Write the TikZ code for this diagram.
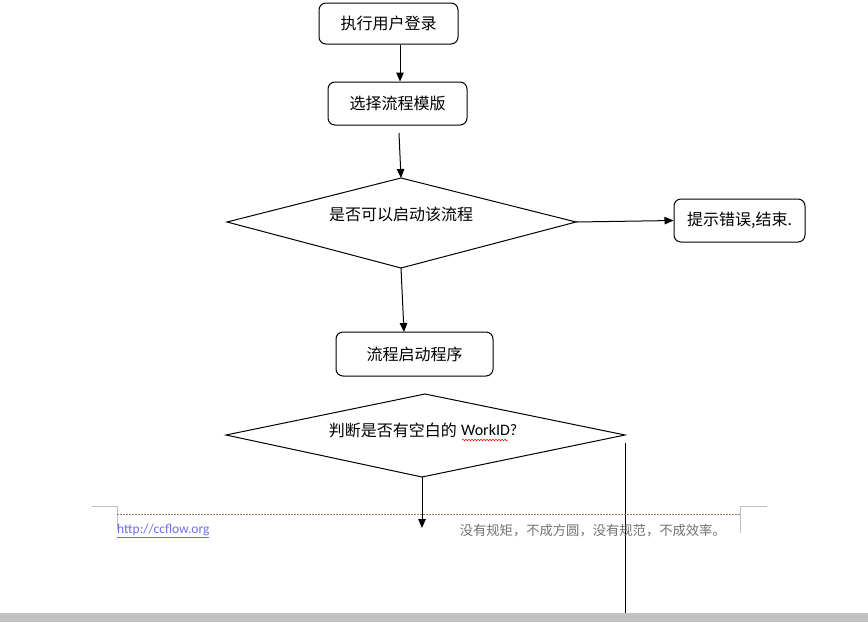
\documentclass[tikz,border=0pt]{standalone}
\usepackage{fontspec}
\setmainfont{Noto Sans CJK SC}
\newfontfamily\latinfont{Carlito}
\usetikzlibrary{arrows.meta,decorations.pathmorphing}
\tikzset{
  box/.style={draw, rounded corners=7pt, line width=1pt, inner sep=0pt, font=\fontsize{16}{19}\selectfont},
  dia/.style={draw, line width=1pt},
  lbl/.style={inner sep=0pt, font=\fontsize{16}{19}\selectfont},
  arr/.style={line width=1pt, -{Triangle[length=9pt,width=7.5pt]}},
  corner/.style={draw=black!25, line width=0.8pt},
}
\begin{document}
\begin{tikzpicture}[x=1pt,y=-1pt]
\useasboundingbox (0,0) rectangle (868,622);
\fill[white] (0,0) rectangle (868,622);
% boxes
\node[box, minimum width=139pt, minimum height=41pt] (b1) at (388.5,23.5) {执行用户登录};
\node[box, minimum width=139pt, minimum height=43pt] (b2) at (397.5,103.5) {选择流程模版};
\node[box, minimum width=131pt, minimum height=43pt] (b3) at (739.5,220.5) {提示错误,结束.};
\node[box, minimum width=157pt, minimum height=44pt] (b4) at (414.5,354) {流程启动程序};
% diamond 1
\coordinate (d1t) at (401,178);
\coordinate (d1r) at (576,222);
\coordinate (d1b) at (401,268);
\coordinate (d1l) at (227,222);
\draw[dia] (d1t) -- (d1r) -- (d1b) -- (d1l) -- cycle;
\node[lbl] (t1) at (401,214) {是否可以启动该流程};
% diamond 2
\coordinate (d2t) at (425,394);
\coordinate (d2r) at (625,435);
\coordinate (d2b) at (422,477);
\coordinate (d2l) at (226,435);
\draw[dia] (d2t) -- (d2r) -- (d2b) -- (d2l) -- cycle;
\node[lbl, anchor=east] (t2a) at (457,430) {判断是否有空白的};
\node[lbl, anchor=west, font=\latinfont\fontsize{16}{19}\selectfont] (t2b) at (461,430) {WorkID?};
\draw[red, line width=0.5pt, decorate, decoration={snake, amplitude=0.8pt, segment length=3pt}] (462,440) -- (508,440);
% connectors
\coordinate (a2s) at (399,133);
\coordinate (a4e) at (404,332);
\coordinate (a5e) at (422,528);
\coordinate (l6s) at (625,443);
\coordinate (l6e) at (625,613);
\draw[arr] (b1.south -| 400,0) -- (b2.north -| 400,0);
\draw[arr] (a2s) -- (d1t);
\draw[arr] (d1r) -- (b3.west);
\draw[arr] (d1b) -- (a4e);
\draw[arr] (d2b) -- (a5e);
\draw[line width=1pt] (l6s) -- (l6e);
% footer
\coordinate (cl1) at (92,506); \coordinate (cl2) at (117,506); \coordinate (cl3) at (117,530);
\coordinate (cr1) at (767,506); \coordinate (cr2) at (740,506); \coordinate (cr3) at (740,533);
\draw[corner] (cl1) -- (cl2) -- (cl3);
\draw[corner] (cr1) -- (cr2) -- (cr3);
\coordinate (hl1) at (117,514); \coordinate (hl2) at (740,514);
\draw[draw={rgb,255:red,150;green,125;blue,100}, line width=0.7pt, dash pattern=on 2pt off 1pt] (hl1) -- (hl2);
\node[inner sep=0pt, anchor=west, text={rgb,255:red,110;green,110;blue,235}, font=\latinfont\fontsize{13.5}{15}\selectfont] (url) at (117,531) {\underline{http://ccflow.org}};
\node[inner sep=0pt, anchor=east, text=black!55, font=\fontsize{13.3}{15}\selectfont] (motto) at (726,531) {没有规矩，不成方圆，没有规范，不成效率。};
\fill[black!24] (0,613) rectangle (868,622);
\end{tikzpicture}
\end{document}
